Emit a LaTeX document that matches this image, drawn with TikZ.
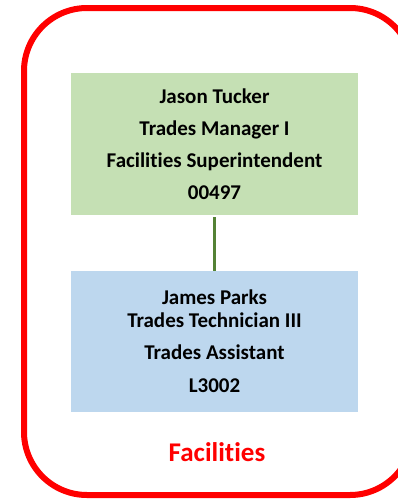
\documentclass[tikz,border=0pt]{standalone}
\usepackage{fontspec}
\setmainfont[Ligatures=NoCommon]{Carlito}
\definecolor{boxgreen}{HTML}{C5E0B4}
\definecolor{boxblue}{HTML}{BDD7EE}
\definecolor{linkgreen}{HTML}{548235}
\definecolor{framered}{HTML}{FF0000}
\begin{document}
\begin{tikzpicture}[x=1pt,y=-1pt,
  personbox/.style={minimum width=287pt, inner sep=0pt, align=center, font=\bfseries\fontsize{21}{32}\selectfont},
  frame/.style={draw=framered, line width=6pt, rounded corners=63pt},
  link/.style={draw=linkgreen, line width=2.5pt}]
\useasboundingbox (0,0) rectangle (398,499);
\clip (0,0) rectangle (398,499);
\fill[white] (0,0) rectangle (398,499);
\draw[frame] (24,8) rectangle (413,495);
\node[personbox, fill=boxgreen, minimum height=142pt] (mgr) at (214.5,144)
  {Jason Tucker\\Trades Manager I\\Facilities Superintendent\\00497};
\node[personbox, fill=boxblue, minimum height=141pt, font=\bfseries\fontsize{21}{23}\selectfont] (tech) at (214.5,341.5)
  {James Parks\\Trades Technician III\\[9pt]Trades Assistant\\[10pt]L3002};
\node[text=framered, font=\bfseries\fontsize{27}{30}\selectfont] (dept) at (217,452) {Facilities};
\draw[link] (mgr.south) ++(0,2) coordinate (a) -- (a |- tech.north);
\end{tikzpicture}
\end{document}
